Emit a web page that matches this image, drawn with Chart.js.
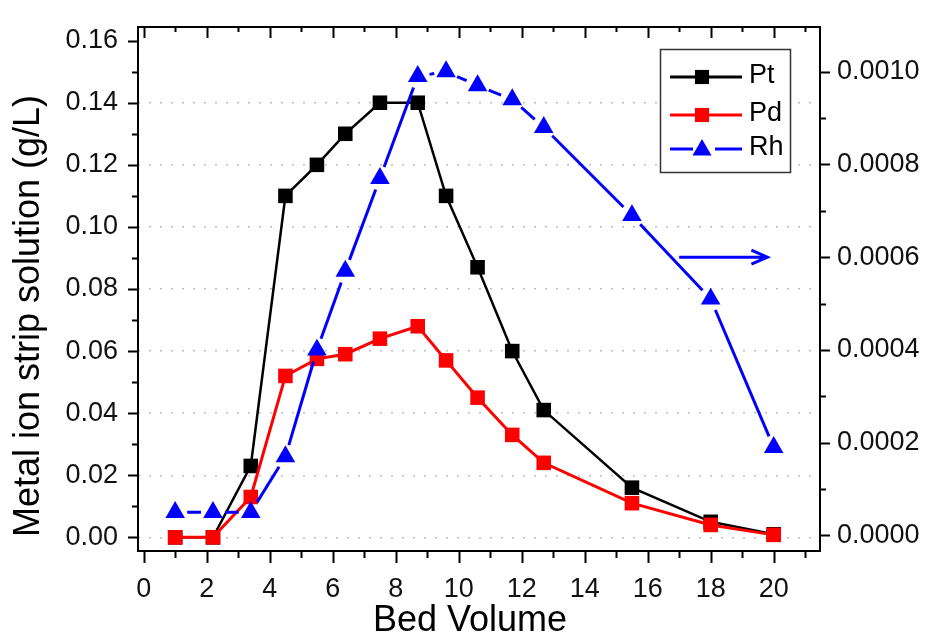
<!DOCTYPE html>
<html>
<head>
<meta charset="utf-8">
<script src="https://cdn.jsdelivr.net/npm/chart.js@4.4.0/dist/chart.umd.min.js"></script>
<style>
  html, body { margin: 0; padding: 0; background: #fff; }
  #wrap { width: 930px; height: 639px; }
</style>
</head>
<body>
<div id="wrap"><canvas id="c" width="930" height="639"></canvas></div>
<script>
  // data
  const bedVolume = [1.0, 2.2, 3.4, 4.5, 5.5, 6.4, 7.5, 8.7, 9.6, 10.6, 11.7, 12.7, 15.5, 18.0, 20.0];
  const ptValues = [0, 0, 0.023, 0.110, 0.120, 0.130, 0.140, 0.140, 0.110, 0.087, 0.060, 0.041, 0.016, 0.005, 0.001];
  const pdValues = [0, 0, 0.013, 0.052, 0.0575, 0.059, 0.064, 0.068, 0.057, 0.045, 0.033, 0.024, 0.011, 0.004, 0.0008];
  const rhValues = [0.00005, 0.00005, 0.00005, 0.00017, 0.00040, 0.00057, 0.00077, 0.00099, 0.00100, 0.00097, 0.00094, 0.00088, 0.00069, 0.00051, 0.00019];

  const xTicks = [0, 2, 4, 6, 8, 10, 12, 14, 16, 18, 20];
  const leftTicks = [0, 0.02, 0.04, 0.06, 0.08, 0.10, 0.12, 0.14, 0.16];
  const rightTicks = [0, 0.0002, 0.0004, 0.0006, 0.0008, 0.0010];

  const FONT = "'Liberation Sans', Arial, sans-serif";
  const SYMBOL_GAP = 12; // Rh line stops short of its symbols

  const pts = vals => bedVolume.map((x, i) => ({ x, y: vals[i] }));

  // axis frame + major/minor ticks like the original plot
  const framePlugin = {
    id: 'frame',
    afterDraw(chart) {
      const { ctx, chartArea: a, scales } = chart;
      const x = scales.x, y = scales.y, y1 = scales.y1;
      ctx.save();
      ctx.strokeStyle = '#000';
      ctx.lineWidth = 2;
      ctx.strokeRect(a.left, a.top, a.right - a.left, a.bottom - a.top);
      ctx.beginPath();
      for (let v = 0; v <= 21; v++) {
        const px = Math.round(x.getPixelForValue(v)) + 0.5;
        const major = v % 2 === 0;
        ctx.moveTo(px, a.bottom);
        ctx.lineTo(px, a.bottom + (major ? 12 : 7));
        ctx.moveTo(px, a.top);
        ctx.lineTo(px, a.top + (major ? 11 : 5));
      }
      for (let k = 0; k <= 16; k++) {
        const py = Math.round(y.getPixelForValue(k * 0.01)) + 0.5;
        ctx.moveTo(a.left, py);
        ctx.lineTo(a.left - (k % 2 === 0 ? 10 : 6), py);
      }
      for (let k = 0; k <= 10; k++) {
        const py = Math.round(y1.getPixelForValue(k * 0.0001)) + 0.5;
        ctx.moveTo(a.right, py);
        ctx.lineTo(a.right + (k % 2 === 0 ? 10 : 6), py);
      }
      ctx.stroke();

      // axis titles
      ctx.fillStyle = '#000';
      ctx.font = '36px ' + FONT;
      ctx.textAlign = 'center';
      ctx.textBaseline = 'middle';
      ctx.fillText('Bed Volume', 470, 621);
      ctx.translate(29, 316);
      ctx.rotate(-Math.PI / 2);
      ctx.fillText('Metal ion strip solution (g/L)', 0, 0);
      ctx.restore();
    }
  };

  // legend box and the arrow pointing to the right axis
  const extrasPlugin = {
    id: 'extras',
    afterDatasetsDraw(chart) {
      const { ctx, scales } = chart;
      ctx.save();
      // arrow
      const ax0 = scales.x.getPixelForValue(17.0);
      const ax1 = scales.x.getPixelForValue(19.8);
      const ay = scales.y1.getPixelForValue(0.0006);
      ctx.strokeStyle = '#0000ff';
      ctx.lineWidth = 3;
      ctx.beginPath();
      ctx.moveTo(ax0, ay);
      ctx.lineTo(ax1, ay);
      ctx.moveTo(ax1 - 16, ay - 7);
      ctx.lineTo(ax1, ay);
      ctx.lineTo(ax1 - 16, ay + 7);
      ctx.stroke();

      // legend
      ctx.fillStyle = '#fff';
      ctx.fillRect(660, 49, 131, 124);
      ctx.strokeStyle = '#333';
      ctx.lineWidth = 1.5;
      ctx.strokeRect(660.5, 49.5, 130, 123);
      const rows = [
        { label: 'Pt', color: '#000000', style: 'rect', r: 10, y: 77, gap: 0 },
        { label: 'Pd', color: '#ff0000', style: 'rect', r: 10, y: 115, gap: 0 },
        { label: 'Rh', color: '#0000ff', style: 'triangle', r: 11, y: 149, gap: SYMBOL_GAP + 3 }
      ];
      const mx = 702;
      rows.forEach(r => {
        ctx.strokeStyle = r.color;
        ctx.fillStyle = r.color;
        ctx.lineWidth = 3;
        ctx.beginPath();
        if (r.gap) {
          ctx.moveTo(670, r.y); ctx.lineTo(mx - r.gap + 6, r.y);
          ctx.moveTo(mx + r.gap - 2, r.y); ctx.lineTo(742, r.y);
        } else {
          ctx.moveTo(670, r.y); ctx.lineTo(742, r.y);
        }
        ctx.stroke();
        Chart.helpers.drawPoint(ctx, { pointStyle: r.style, radius: r.r, rotation: 0, borderWidth: 0 }, mx, r.style === 'triangle' ? r.y + 1 : r.y);
        ctx.fillStyle = '#000';
        ctx.font = '27px ' + FONT;
        ctx.textAlign = 'left';
        ctx.textBaseline = 'middle';
        ctx.fillText(r.label, 749, r.y - 1);
      });
      ctx.restore();
    }
  };

  const tickFont = { family: FONT, size: 27 };

  new Chart(document.getElementById('c'), {
    type: 'line',
    data: {
      datasets: [
        {
          label: 'Pt',
          data: pts(ptValues),
          yAxisID: 'y',
          borderColor: '#000000',
          backgroundColor: '#000000',
          borderWidth: 2.5,
          pointStyle: 'rect',
          pointRadius: 10.3,
          pointBorderWidth: 0,
          order: 3
        },
        {
          label: 'Pd',
          data: pts(pdValues),
          yAxisID: 'y',
          borderColor: '#ff0000',
          backgroundColor: '#ff0000',
          borderWidth: 3,
          pointStyle: 'rect',
          pointRadius: 10.3,
          pointBorderWidth: 0,
          order: 2
        },
        {
          label: 'Rh',
          data: pts(rhValues),
          yAxisID: 'y1',
          borderColor: '#0000ff',
          backgroundColor: '#0000ff',
          borderWidth: 3,
          pointStyle: 'triangle',
          pointRadius: 11.3,
          pointBorderWidth: 0,
          order: 1,
          segment: {
            borderDash: c => {
              const L = Math.hypot(c.p1.x - c.p0.x, c.p1.y - c.p0.y);
              if (L <= 2 * SYMBOL_GAP) return [0, L];
              return [0, SYMBOL_GAP, L - 2 * SYMBOL_GAP, SYMBOL_GAP];
            }
          }
        }
      ]
    },
    options: {
      responsive: false,
      animation: false,
      devicePixelRatio: 1,
      layout: { padding: { top: 27, left: 0, right: 0, bottom: 0 } },
      plugins: { legend: { display: false }, tooltip: { enabled: false } },
      elements: { line: { tension: 0 } },
      scales: {
        x: {
          type: 'linear',
          position: 'bottom',
          min: -0.18,
          max: 21.47,
          afterFit: s => { s.height = 88; },
          afterBuildTicks: s => { s.ticks = xTicks.map(v => ({ value: v })); },
          grid: { drawOnChartArea: false, drawTicks: true, tickLength: 12, tickColor: 'rgba(0,0,0,0)' },
          border: { display: false },
          ticks: { padding: 10, font: tickFont, color: '#111', maxRotation: 0, autoSkip: false, callback: v => String(v) }
        },
        y: {
          type: 'linear',
          position: 'left',
          min: -0.0044,
          max: 0.1644,
          afterFit: s => { s.width = 138; },
          afterBuildTicks: s => { s.ticks = leftTicks.map(v => ({ value: v })); },
          grid: {
            color: c => (c.tick && c.tick.value > 0.15 ? 'rgba(0,0,0,0)' : '#bdbdbd'),
            lineWidth: 1.5,
            drawTicks: true,
            tickLength: 10,
            tickColor: 'rgba(0,0,0,0)'
          },
          border: { display: false, dash: [2, 9] },
          ticks: { padding: 10, font: tickFont, color: '#111', autoSkip: false, callback: v => v.toFixed(2) }
        },
        y1: {
          type: 'linear',
          position: 'right',
          min: -0.0000335,
          max: 0.0010963,
          afterFit: s => { s.width = 110; },
          afterBuildTicks: s => { s.ticks = rightTicks.map(v => ({ value: v })); },
          grid: { drawOnChartArea: false, drawTicks: true, tickLength: 10, tickColor: 'rgba(0,0,0,0)' },
          border: { display: false },
          ticks: { padding: 7, font: tickFont, color: '#111', autoSkip: false, callback: v => v.toFixed(4) }
        }
      }
    },
    plugins: [framePlugin, extrasPlugin]
  });
</script>
</body>
</html>
